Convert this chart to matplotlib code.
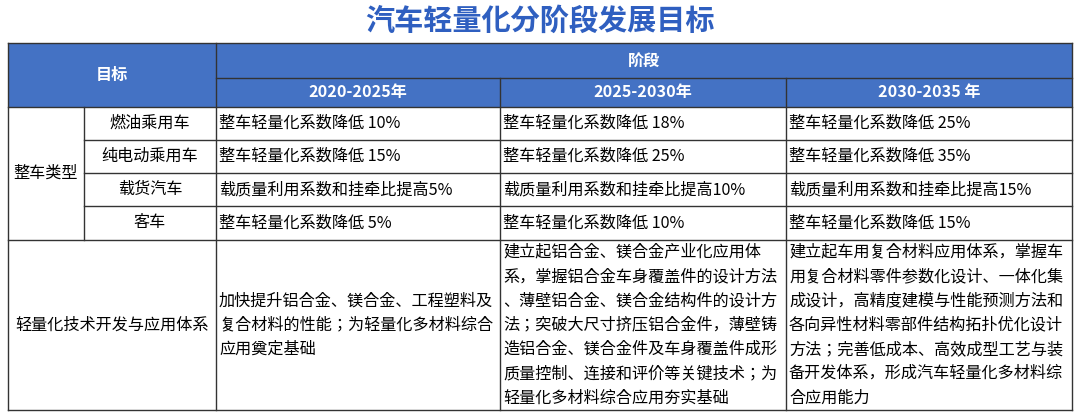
import matplotlib
matplotlib.use("Agg")
import matplotlib.pyplot as plt
from matplotlib.patches import Rectangle
from matplotlib import font_manager as fm

names = sorted({f.name for f in fm.fontManager.ttflist})
cands = [n for n in names if "CJK" in n and "Sans" in n]
pref = [n for n in cands if "SC" in n] or cands or [n for n in names if "CJK" in n]
fam = pref[0] if pref else "DejaVu Sans"
plt.rcParams["font.family"] = [fam, "DejaVu Sans"]

title = "汽车轻量化分阶段发展目标"
periods = ["2020-2025年", "2025-2030年", "2030-2035 年"]
vehicle_types = ["燃油乘用车", "纯电动乘用车", "载货汽车", "客车"]
row_values = [
    ["整车轻量化系数降低 10%", "整车轻量化系数降低 18%", "整车轻量化系数降低 25%"],
    ["整车轻量化系数降低 15%", "整车轻量化系数降低 25%", "整车轻量化系数降低 35%"],
    ["载质量利用系数和挂牵比提高5%", "载质量利用系数和挂牵比提高10%", "载质量利用系数和挂牵比提高15%"],
    ["整车轻量化系数降低 5%", "整车轻量化系数降低 10%", "整车轻量化系数降低 15%"],
]
tech_label = "轻量化技术开发与应用体系"
tech_values = [
    ["加快提升铝合金、镁合金、工程塑料及", "复合材料的性能；为轻量化多材料综合", "应用奠定基础"],
    ["建立起铝合金、镁合金产业化应用体", "系，掌握铝合金车身覆盖件的设计方法", "、薄壁铝合金、镁合金结构件的设计方",
     "法；突破大尺寸挤压铝合金件，薄壁铸", "造铝合金、镁合金件及车身覆盖件成形", "质量控制、连接和评价等关键技术；为",
     "轻量化多材料综合应用夯实基础"],
    ["建立起车用复合材料应用体系，掌握车", "用复合材料零件参数化设计、一体化集", "成设计，高精度建模与性能预测方法和",
     "各向异性材料零部件结构拓扑优化设计", "方法；完善低成本、高效成型工艺与装", "备开发体系，形成汽车轻量化多材料综",
     "合应用能力"],
]

W, H = 1080, 418
fig = plt.figure(figsize=(W / 100, H / 100), dpi=100)
ax = fig.add_axes([0, 0, 1, 1])
ax.set_xlim(0, W)
ax.set_ylim(H, 0)
ax.axis("off")

xs = [8, 84, 216, 500, 786, 1072]
ys = [43, 78, 107, 140, 173, 206, 240, 410]
blue = "#4472c4"
lc = "#333333"
fs = 11.6

ax.text(W / 2, 21, title, ha="center", va="center", fontsize=21, fontweight="bold", color="#2f5fc0")

ax.add_patch(Rectangle((xs[0], ys[0]), xs[-1] - xs[0], ys[2] - ys[0], facecolor=blue, edgecolor="none"))
ax.text((xs[0] + xs[2]) / 2, (ys[0] + ys[2]) / 2, "目标", ha="center", va="center", color="white",
        fontsize=fs, fontweight="bold")
ax.text((xs[2] + xs[-1]) / 2, (ys[0] + ys[1]) / 2, "阶段", ha="center", va="center", color="white",
        fontsize=fs, fontweight="bold")
for i, p in enumerate(periods):
    ax.text((xs[2 + i] + xs[3 + i]) / 2, (ys[1] + ys[2]) / 2, p, ha="center", va="center", color="white",
            fontsize=fs, fontweight="bold")

ax.text((xs[0] + xs[1]) / 2, (ys[2] + ys[6]) / 2, "整车类型", ha="center", va="center", fontsize=fs)
for r, vt in enumerate(vehicle_types):
    yc = (ys[2 + r] + ys[3 + r]) / 2
    ax.text((xs[1] + xs[2]) / 2, yc, vt, ha="center", va="center", fontsize=fs)
    for c, v in enumerate(row_values[r]):
        ax.text(xs[2 + c] + 3, yc, v, ha="left", va="center", fontsize=fs)

ax.text((xs[0] + xs[2]) / 2, (ys[6] + ys[7]) / 2, tech_label, ha="center", va="center", fontsize=fs)
lh = 24.3
for c, lines in enumerate(tech_values):
    n = len(lines)
    y0 = (ys[6] + ys[7]) / 2 - (n - 1) * lh / 2
    for k, ln in enumerate(lines):
        ax.text(xs[2 + c] + 3, y0 + k * lh, ln, ha="left", va="center", fontsize=fs)

kw = dict(color=lc, lw=1.0)
ax.plot([xs[0], xs[-1]], [ys[0], ys[0]], **kw)
ax.plot([xs[2], xs[-1]], [ys[1], ys[1]], **kw)
ax.plot([xs[0], xs[-1]], [ys[2], ys[2]], **kw)
for y in ys[3:6]:
    ax.plot([xs[1], xs[-1]], [y, y], **kw)
ax.plot([xs[0], xs[-1]], [ys[6], ys[6]], **kw)
ax.plot([xs[0], xs[-1]], [ys[7], ys[7]], **kw)
ax.plot([xs[0], xs[0]], [ys[0], ys[7]], **kw)
ax.plot([xs[1], xs[1]], [ys[2], ys[6]], **kw)
ax.plot([xs[2], xs[2]], [ys[0], ys[7]], **kw)
for x in xs[3:5]:
    ax.plot([x, x], [ys[1], ys[7]], **kw)
ax.plot([xs[-1], xs[-1]], [ys[0], ys[7]], **kw)

fig.savefig("out.png", dpi=100)
